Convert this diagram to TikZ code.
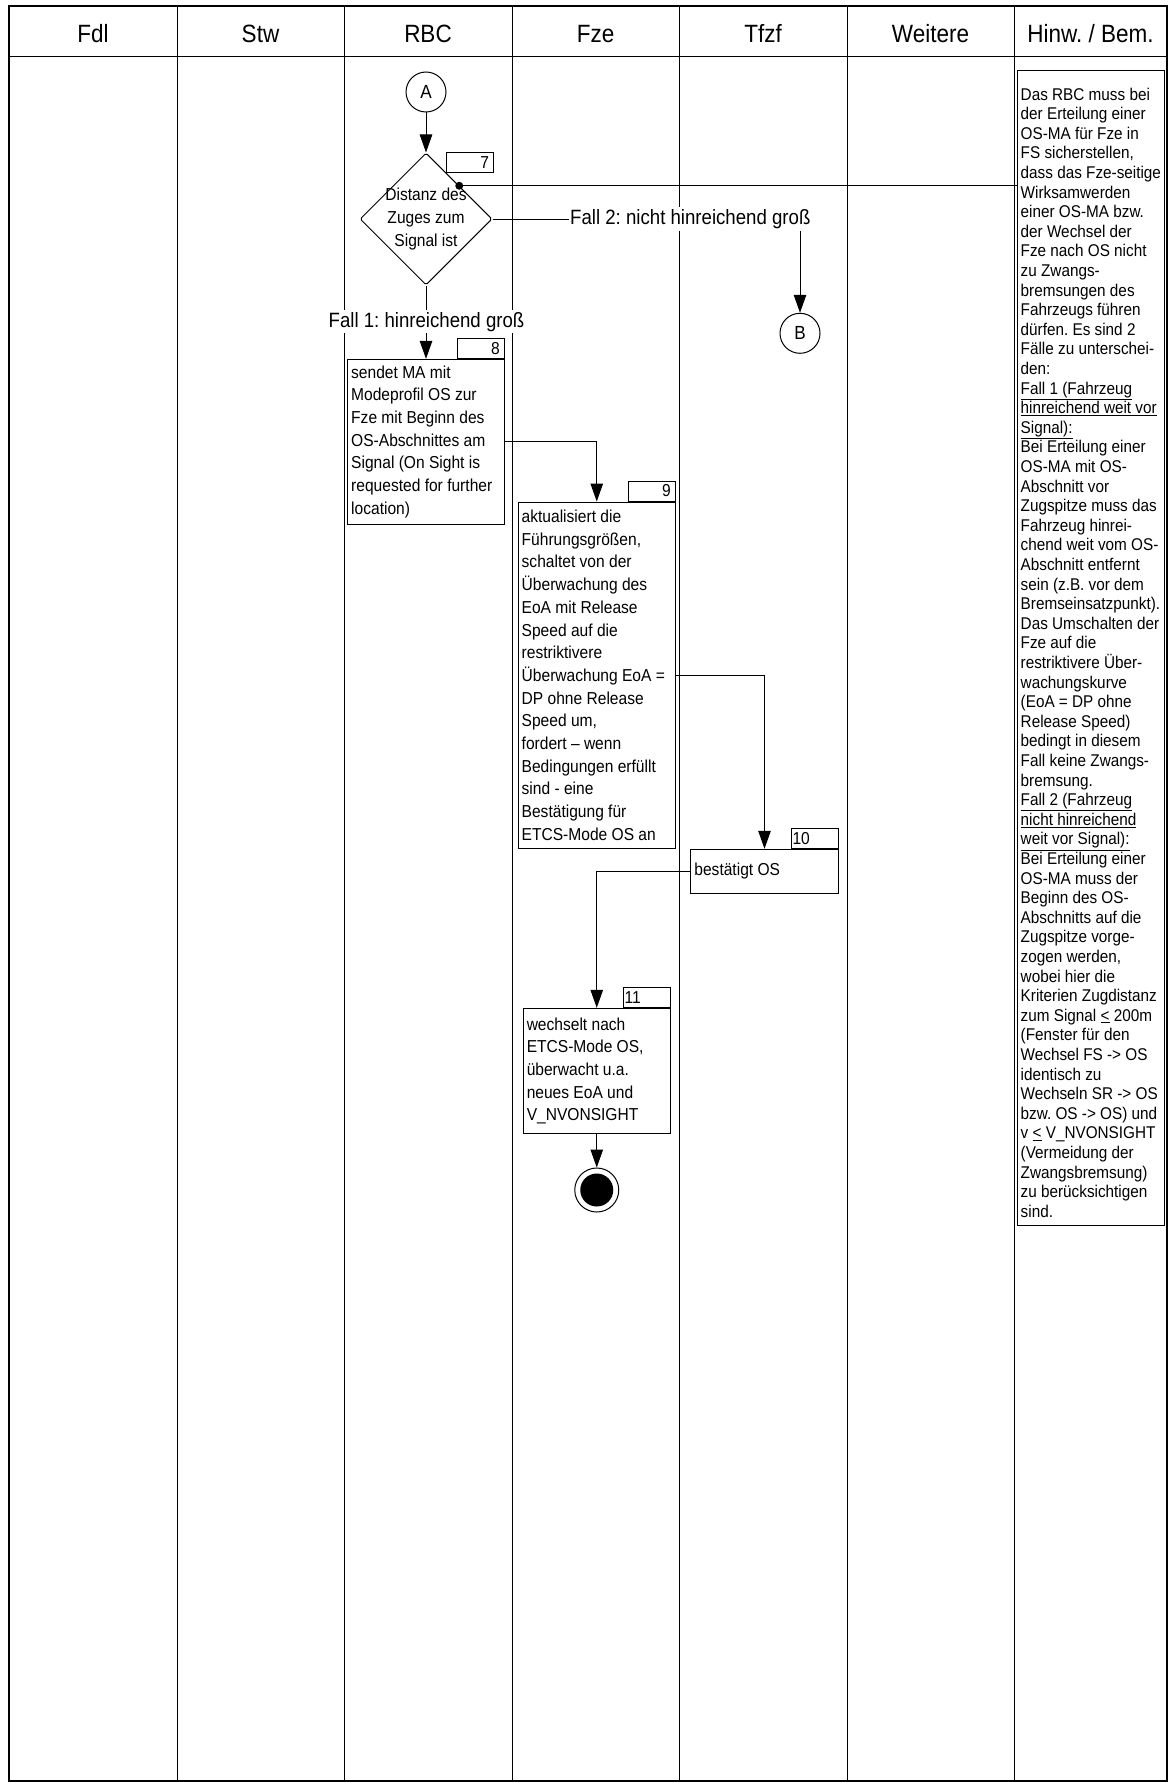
\documentclass[tikz,border=0pt]{standalone}
\usepackage{fontspec}
\setmainfont{Liberation Sans}[FakeStretch=0.9]
\usetikzlibrary{arrows.meta,shapes.geometric}
\newcommand{\myfs}[2]{\fontsize{#1}{#2}\selectfont}
\frenchspacing
\begin{document}
\frenchspacing
\begin{tikzpicture}[x=1pt,y=-1pt,
  every node/.style={font=\myfs{17.3}{22.67}},
  ln/.style={line width=1pt},
  arr/.style={line width=1pt,-{Triangle[length=18pt,width=12.5pt]}},
  pbox/.style={draw,line width=1pt,rectangle,inner sep=0pt},
  ptext/.style={anchor=west,align=left,inner sep=0pt},
  tabbox/.style={draw,line width=1pt,rectangle,minimum width=47pt,minimum height=20pt,inner sep=0pt,anchor=south east},
  num/.style={inner sep=0pt},
  conn/.style={draw,circle,line width=1pt,minimum size=40pt,inner sep=0pt,font=\myfs{19}{22}},
  lab/.style={fill=white,inner xsep=1pt,inner ysep=2pt,font=\myfs{20.7}{24}},
  hdr/.style={anchor=base,inner sep=0pt,font=\myfs{25}{30}},
  endnode/.style={draw,circle,line width=1pt,minimum size=44pt,inner sep=0pt,
    path picture={\fill (path picture bounding box.center) circle (16.5pt);}},
]
\useasboundingbox (0,0) rectangle (1168,1782);
% ---------- grid ----------
\foreach \xx in {177,344,512,679,847,1014} \draw[ln] (\xx,6) -- (\xx,1781);
\draw[ln] (9,57) -- (1167,57);
\draw[line width=1.5pt] (9,6) rectangle (1167,1781);
% ---------- headers ----------
\node[hdr] (h1) at (93,42.7) {Fdl};
\node[hdr] (h2) at (260.5,42.7) {Stw};
\node[hdr] (h3) at (428,42.7) {RBC};
\node[hdr] (h4) at (595.5,42.7) {Fze};
\node[hdr] (h5) at (763,42.7) {Tfzf};
\node[hdr] (h6) at (930.5,42.7) {Weitere};
\node[hdr] (h7) at (1090.5,42.7) {Hinw. / Bem.};
% ---------- notes box ----------
\node[pbox,fill=white,anchor=north west,minimum width=147pt,minimum height=1154.5pt] (notes) at (1017,70.5) {};
\node[anchor=north west,align=left,inner sep=0pt,font=\myfs{17}{19.6}]
  (nt) at ([xshift=3.5pt,yshift=-17pt]notes.north west) {Das RBC muss bei\\
der Erteilung einer\\
OS-MA für Fze in\\
FS sicherstellen,\\
dass das Fze-seitige\\
Wirksamwerden\\
einer OS-MA bzw.\\
der Wechsel der\\
Fze nach OS nicht\\
zu Zwangs-\\
bremsungen des\\
Fahrzeugs führen\\
dürfen. Es sind 2\\
Fälle zu unterschei-\\
den:\\
\underline{Fall 1 (Fahrzeug}\\
\underline{hinreichend weit vor}\\
\underline{Signal):}\\
Bei Erteilung einer\\
OS-MA mit OS-\\
Abschnitt vor\\
Zugspitze muss das\\
Fahrzeug hinrei-\\
chend weit vom OS-\\
Abschnitt entfernt\\
sein (z.B. vor dem\\
Bremseinsatzpunkt).\\
Das Umschalten der\\
Fze auf die\\
restriktivere Über-\\
wachungskurve\\
(EoA = DP ohne\\
Release Speed)\\
bedingt in diesem\\
Fall keine Zwangs-\\
bremsung.\\
\underline{Fall 2 (Fahrzeug}\\
\underline{nicht hinreichend}\\
\underline{weit vor Signal):}\\
Bei Erteilung einer\\
OS-MA muss der\\
Beginn des OS-\\
Abschnitts auf die\\
Zugspitze vorge-\\
zogen werden,\\
wobei hier die\\
Kriterien Zugdistanz\\
zum Signal \underline{<} 200m\\
(Fenster für den\\
Wechsel FS -> OS\\
identisch zu\\
Wechseln SR -> OS\\
bzw. OS -> OS) und\\
v \underline{<} V\_NVONSIGHT\\
(Vermeidung der\\
Zwangsbremsung)\\
zu berücksichtigen\\
sind.};
% ---------- flow nodes ----------
\node[conn] (A) at (426,92) {A};
\node[diamond,draw,line width=1pt,aspect=1,minimum width=132pt,minimum height=132pt,inner sep=0pt,rounded corners=1.5pt] (dia) at (426,219) {};
\node[align=center,inner sep=0pt] (diat) at (dia.center) {Distanz des\\Zuges zum\\Signal ist};
\node[tabbox] (n7) at (494.3,173.3) {};
\node[num,anchor=east] (n7t) at ([xshift=-5pt]n7.east) {7};
\node[conn] (B) at (800,333.3) {B};

\node[pbox,minimum width=157pt,minimum height=164.7pt] (b8) at (426,441.7) {};
\node[tabbox] (n8) at (b8.north east) {};
\node[num,anchor=east] (n8t) at ([xshift=-5pt]n8.east) {8};
\node[ptext] (t8) at ([xshift=4pt]b8.west) {sendet MA mit\\Modeprofil OS zur\\Fze mit Beginn des\\OS-Abschnittes am\\Signal (On Sight is\\requested for further\\location)};

\node[pbox,minimum width=157.5pt,minimum height=346.3pt] (b9) at (596.75,675.15) {};
\node[tabbox] (n9) at (b9.north east) {};
\node[num,anchor=east] (n9t) at ([xshift=-5pt]n9.east) {9};
\node[ptext] (t9) at ([xshift=4pt]b9.west) {aktualisiert die\\Führungsgrößen,\\schaltet von der\\Überwachung des\\EoA mit Release\\Speed auf die\\restriktivere\\Überwachung EoA =\\DP ohne Release\\Speed um,\\fordert – wenn\\Bedingungen erfüllt\\sind - eine\\Bestätigung für\\ETCS-Mode OS an};

\node[pbox,minimum width=147.6pt,minimum height=44pt] (b10) at (764.5,871.3) {};
\node[tabbox] (n10) at (b10.north east) {};
\node[num,anchor=west] (n10t) at ([xshift=1.5pt]n10.west) {10};
\node[ptext] (t10) at ([xshift=4pt]b10.west) {bestätigt OS};

\node[pbox,minimum width=147.4pt,minimum height=125pt] (b11) at (596.75,1070.8) {};
\node[tabbox] (n11) at (b11.north east) {};
\node[num,anchor=west] (n11t) at ([xshift=1.5pt]n11.west) {11};
\node[ptext] (t11) at ([xshift=4pt]b11.west) {wechselt nach\\ETCS-Mode OS,\\überwacht u.a.\\neues EoA und\\V\_NVONSIGHT};

\node[endnode] (E) at (596.75,1190) {};
% ---------- connectors ----------
\draw[arr] (A.south) -- (dia.north);
\draw[ln] (dia.north east) -- (dia.north east -| notes.west);
\fill (dia.north east) circle (4pt);
\draw[arr] (dia.east) -| (B.north);
\draw[arr] (dia.south) -- (b8.north);
\draw[arr] (b8.east) -| (b9.north);
\draw[arr] (b9.east) -| (b10.north);
\draw[arr] (b10.west) -| (b11.north);
\draw[arr] (b11.south) -- (E.north);
% ---------- labels ----------
\node[lab,anchor=west] (f2) at (569,219) {Fall 2: nicht hinreichend groß};
\node[lab] (f1) at (426.5,321.7) {Fall 1: hinreichend groß};
\end{tikzpicture}
\end{document}
